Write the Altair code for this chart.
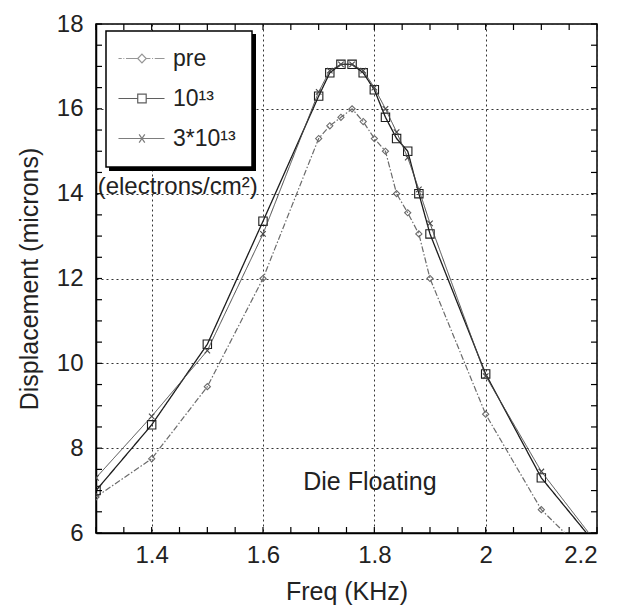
import altair as alt
import pandas as pd

# ---- data ----
freq = [1.3, 1.4, 1.5, 1.6, 1.7, 1.72, 1.74, 1.76, 1.78, 1.8, 1.82, 1.84, 1.86, 1.88, 1.9, 2.0, 2.1, 2.2]
pre = [6.85, 7.75, 9.45, 12.0, 15.3, 15.6, 15.8, 16.0, 15.7, 15.3, 15.0, 14.0, 13.55, 13.05, 12.0, 8.8, 6.55, 5.25]
dose_1e13 = [7.0, 8.55, 10.45, 13.35, 16.3, 16.85, 17.05, 17.05, 16.85, 16.45, 15.8, 15.3, 15.0, 14.0, 13.05, 9.75, 7.3, 5.7]
dose_3e13 = [7.3, 8.75, 10.3, 13.05, 16.4, 16.9, 17.05, 17.05, 16.9, 16.5, 16.0, 15.45, 14.85, 14.1, 13.3, 9.7, 7.45, 5.75]
series_names = ["pre", "10¹³", "3*10¹³"]

x_ticks = [1.3, 1.35, 1.4, 1.45, 1.5, 1.55, 1.6, 1.65, 1.7, 1.75, 1.8, 1.85, 1.9, 1.95, 2.0, 2.05, 2.1, 2.15, 2.2]
y_ticks = [6, 6.5, 7, 7.5, 8, 8.5, 9, 9.5, 10, 10.5, 11, 11.5, 12, 12.5, 13, 13.5, 14, 14.5, 15, 15.5, 16, 16.5, 17, 17.5, 18]

notes_text = ["Die Floating", "(electrons/cm²)"]
notes_x = [1.792, 1.303]
notes_y = [7.2, 14.15]
notes_align = ["center", "left"]

# ---- tables ----
rows = []
for name, vals in zip(series_names, [pre, dose_1e13, dose_3e13]):
    for f, v in zip(freq, vals):
        rows.append({"freq": f, "disp": v, "series": name})
df = pd.DataFrame(rows)
notes = pd.DataFrame({"text": notes_text, "freq": notes_x, "disp": notes_y, "align": notes_align})
xt = pd.DataFrame({"v": x_ticks})
yt = pd.DataFrame({"v": y_ticks})

W, H = 501, 509
FONT = "Liberation Sans"
FS = 24
xs = alt.Scale(domain=[1.3, 2.2], nice=False, zero=False)
ys = alt.Scale(domain=[6, 18], nice=False, zero=False)

major_x = "abs(datum.value*5 - round(datum.value*5)) < 0.001"
major_y = "abs(datum.value/2 - round(datum.value/2)) < 0.001"

x_axis = alt.Axis(values=x_ticks, format="~g", orient="bottom",
                  labelExpr=f"({major_x}) ? datum.label : ''",
                  grid=True, gridDash=[2, 3], gridColor="#333", gridWidth=1,
                  gridOpacity={"condition": {"test": major_x, "value": 1}, "value": 0},
                  ticks=False, labelPadding=10, labelFontSize=FS,
                  title="Freq (KHz)", titlePadding=12, titleFontSize=25)
y_axis = alt.Axis(values=y_ticks, format="~g", orient="left",
                  labelExpr=f"({major_y}) ? datum.label : ''",
                  grid=True, gridDash=[2, 3], gridColor="#333", gridWidth=1,
                  gridOpacity={"condition": {"test": major_y, "value": 1}, "value": 0},
                  ticks=False, labelPadding=13, labelFontSize=FS,
                  title="Displacement (microns)", titlePadding=14, titleFontSize=25)

styles = {
    "pre": dict(color="#6b6b6b", dash=[6, 2, 1.5, 2], width=1.2, shape="diamond", size=38),
    "10¹³": dict(color="#1c1c1c", dash=[1, 0], width=1.3, shape="square", size=70),
    "3*10¹³": dict(color="#474747", dash=[1, 0], width=1.0, shape="M-1,-1L1,1M-1,1L1,-1", size=30),
}

# legend box geometry (plot-area pixels) and its drop shadow
LEG_X, LEG_Y, LEG_W, LEG_H, SHADOW = 10, 7, 147, 137, 3
shadow = alt.Chart(notes).transform_filter(alt.datum.align == "left").mark_rect(color="black").encode(
    x=alt.value(LEG_X + SHADOW), x2=alt.value(LEG_X + LEG_W + SHADOW),
    y=alt.value(LEG_Y + SHADOW), y2=alt.value(LEG_Y + LEG_H + SHADOW),
)

layers = [shadow]
i = 0
for name in series_names:
    st = styles[name]
    sub = alt.Chart(df).transform_filter(alt.datum.series == name)
    line = sub.mark_line(color=st["color"], strokeDash=st["dash"], strokeWidth=st["width"], clip=True).encode(
        x=alt.X("freq:Q", scale=xs, axis=x_axis if i == 0 else None),
        y=alt.Y("disp:Q", scale=ys, axis=y_axis if i == 0 else None),
    )
    pts = sub.mark_point(shape=st["shape"], filled=False, size=st["size"], color=st["color"],
                         strokeWidth=1.1, opacity=1, clip=True).encode(
        x=alt.X("freq:Q", scale=xs, axis=None),
        y=alt.Y("disp:Q", scale=ys, axis=None),
    )
    layers += [line, pts]
    i += 1

# inward ticks on all four sides, placed by the scales
TL = 6
tick_bottom = alt.Chart(xt).mark_rule(color="black", strokeWidth=1.2).encode(
    x=alt.X("v:Q", scale=xs, axis=None), y=alt.value(H), y2=alt.value(H - TL))
tick_top = alt.Chart(xt).mark_rule(color="black", strokeWidth=1.2).encode(
    x=alt.X("v:Q", scale=xs, axis=None), y=alt.value(0), y2=alt.value(TL))
tick_left = alt.Chart(yt).mark_rule(color="black", strokeWidth=1.2).encode(
    y=alt.Y("v:Q", scale=ys, axis=None), x=alt.value(0), x2=alt.value(TL))
tick_right = alt.Chart(yt).mark_rule(color="black", strokeWidth=1.2).encode(
    y=alt.Y("v:Q", scale=ys, axis=None), x=alt.value(W), x2=alt.value(W - TL))

txt_die = alt.Chart(notes).transform_filter(alt.datum.align == "center").mark_text(
    font=FONT, fontSize=25, color="#222", align="center", baseline="middle").encode(
    x=alt.X("freq:Q", scale=xs, axis=None),
    y=alt.Y("disp:Q", scale=ys, axis=None),
    text="text:N",
)
txt_units = alt.Chart(notes).transform_filter(alt.datum.align == "left").mark_text(
    font=FONT, fontSize=FS, color="#222", align="left", baseline="middle").encode(
    x=alt.X("freq:Q", scale=xs, axis=None),
    y=alt.Y("disp:Q", scale=ys, axis=None),
    text="text:N",
)

# legend (line + marker symbols), driven by the scale domain only
U = 9.4  # px per symbol unit (sqrt(symbolSize)/2)
sym_pre = ("M-1.6,0L-1.25,0M-1.08,0L-0.98,0M-0.8,0L0.45,0M1.35,0L1.8,0M1.98,0L2.08,0M2.26,0L3.3,0"
           "M0.9,-0.46L1.35,0L0.9,0.46L0.45,0Z")
sym_sq = "M-1.6,0L0.45,0M1.35,0L3.3,0M0.45,-0.46L1.35,-0.46L1.35,0.46L0.45,0.46Z"
sym_x = "M-1.6,0L3.3,0M0.6,-0.43L1.2,0.43M0.6,0.43L1.2,-0.43"
leg = alt.Legend(orient="none", legendX=LEG_X, legendY=LEG_Y, title=None,
                 strokeColor="black", fillColor="white", padding=16,
                 labelFont=FONT, labelFontSize=23, labelColor="#222", labelOffset=28,
                 symbolSize=(2 * U) ** 2, symbolStrokeWidth=1.2, rowPadding=16)
legend_layer = alt.Chart(df).transform_filter("datum.disp > 1000").mark_point(filled=False).encode(
    x=alt.X("freq:Q", scale=xs, axis=None),
    y=alt.Y("disp:Q", scale=ys, axis=None),
    shape=alt.Shape("series:N", scale=alt.Scale(domain=series_names, range=[sym_pre, sym_sq, sym_x]), legend=leg),
    color=alt.Color("series:N", scale=alt.Scale(domain=series_names, range=["#6b6b6b", "#1c1c1c", "#474747"]), legend=leg),
)

chart = alt.layer(*layers, tick_bottom, tick_top, tick_left, tick_right,
                  txt_die, txt_units, legend_layer).resolve_axis(
    x="independent", y="independent"
).properties(
    width=W, height=H,
    padding={"left": 9, "top": 4, "right": 5, "bottom": 5},
).configure_view(stroke="black", strokeWidth=1.5).configure_axis(
    labelFont=FONT, labelColor="#222",
    titleFont=FONT, titleColor="#222", titleFontWeight="normal",
    domainColor="black", domainWidth=1.5,
).configure_legend(strokeWidth=1.5)

chart.save("out.html", embed_options={"renderer": "svg", "actions": False})
